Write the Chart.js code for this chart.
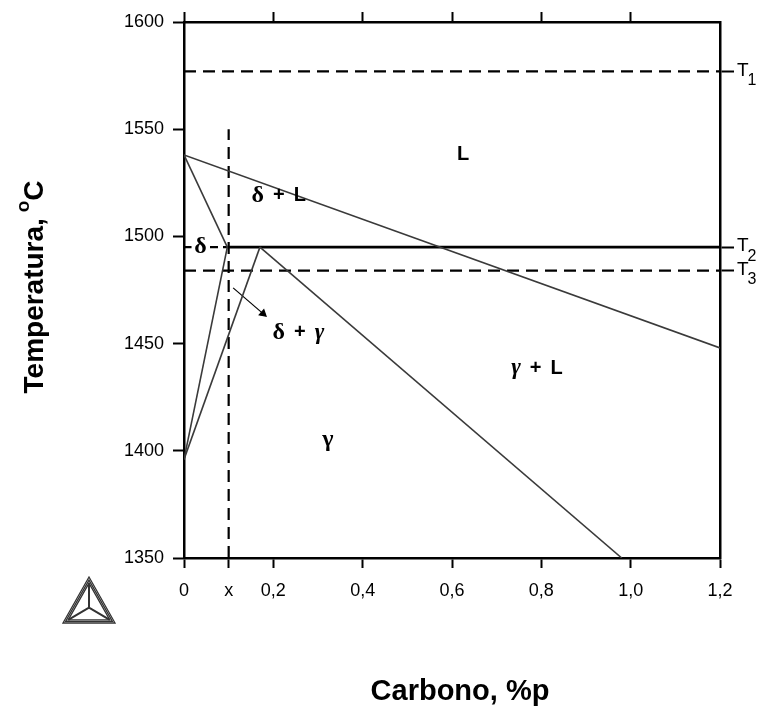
<!DOCTYPE html>
<html>
<head>
<meta charset="utf-8">
<script src="https://cdn.jsdelivr.net/npm/chart.js@4/dist/chart.umd.min.js"></script>
<style>
  html, body { margin: 0; padding: 0; background: #fff; }
  #wrap { width: 761px; height: 709px; }
</style>
</head>
<body>
<div id="wrap"><canvas id="chart" width="761" height="709"></canvas></div>
<script>
// axis ticks
const xTicks = [0, 0.1, 0.2, 0.4, 0.6, 0.8, 1.0, 1.2];
const xTopTicks = [0, 0.2, 0.4, 0.6, 0.8, 1.0];
const yTicks = [1350, 1400, 1450, 1500, 1550, 1600];

// phase boundaries (carbon %, temperature °C)
const liquidusC = [0, 1.2];
const liquidusT = [1538, 1448];
const deltaSolidusC = [0, 0.097];
const deltaSolidusT = [1538, 1495];
const deltaSolvusC = [0, 0.097];
const deltaSolvusT = [1396, 1495];
const gammaSolvusC = [0, 0.17];
const gammaSolvusT = [1396, 1495];
const gammaSolidusC = [0.17, 0.98];
const gammaSolidusT = [1495, 1350];
const peritecticC = [0.097, 1.2];
const peritecticT = [1495, 1495];

// reference temperatures and composition x
const tempNames = ['T1', 'T2', 'T3'];
const tempValues = [1577, 1495, 1484];
const xLineC = [0.1, 0.1];
const xLineT = [1350, 1550];
const arrowC = [0.11, 0.177];
const arrowT = [1476, 1464];

// region labels
const regionLabels = [
  { x: 0.625, y: 1538, runs: [['L', 'sans']] },
  { x: 0.212, y: 1519, runs: [['δ', 'serifB'], ['+', 'sans'], ['L', 'sans']] },
  { x: 0.256, y: 1455, runs: [['δ', 'serifB'], ['+', 'sans'], ['γ', 'serifI']] },
  { x: 0.79, y: 1438.5, runs: [['γ', 'serifI'], ['+', 'sans'], ['L', 'sans']] },
  { x: 0.322, y: 1405, runs: [['γ', 'serifB']] }
];

const pts = (xs, ys) => xs.map((x, i) => ({ x, y: ys[i] }));
const fmt = (v) => (v === 0.1 ? 'x' : v === 0 ? '0' : v.toFixed(1).replace('.', ','));

const thin = { borderColor: '#3a3a3a', borderWidth: 1.6 };
const dash = { borderColor: '#000', borderWidth: 2.2, borderDash: [12, 7] };

const datasets = [
  { data: pts(liquidusC, liquidusT), ...thin },
  { data: pts(deltaSolidusC, deltaSolidusT), ...thin },
  { data: pts(deltaSolvusC, deltaSolvusT), ...thin },
  { data: pts(gammaSolvusC, gammaSolvusT), ...thin },
  { data: pts(gammaSolidusC, gammaSolidusT), ...thin },
  { data: pts(peritecticC, peritecticT), borderColor: '#000', borderWidth: 2.6 },
  { data: pts([0, 1.2], [tempValues[0], tempValues[0]]), ...dash },
  { data: pts([0, 1.2], [tempValues[2], tempValues[2]]), ...dash },
  { data: pts([0, 0.097], [tempValues[1], tempValues[1]]), ...dash, borderDash: [8, 5] },
  { data: pts(xLineC, xLineT), ...dash },
  {
    data: pts(arrowC, arrowT), borderColor: '#000', borderWidth: 1.2,
    pointRadius: [0, 4], pointStyle: 'triangle', pointRotation: [0, 131],
    pointBackgroundColor: '#000', pointBorderColor: '#000'
  }
];

const SANS = "'Liberation Sans', Arial, sans-serif";
const fonts = {
  sans: 'bold 20px ' + SANS,
  serifB: "bold 24px 'Liberation Serif', 'Times New Roman', serif",
  serifI: "bold italic 23px 'Liberation Serif', 'Times New Roman', serif"
};

function drawRuns(ctx, runs, cx, cy, gap = 9) {
  let total = gap * (runs.length - 1);
  const widths = runs.map(([t, f]) => { ctx.font = fonts[f]; const w = ctx.measureText(t).width; total += w; return w; });
  let x = cx - total / 2;
  runs.forEach(([t, f], i) => { ctx.font = fonts[f]; ctx.fillText(t, x, cy); x += widths[i] + gap; });
}

const decorations = {
  id: 'decorations',
  afterDatasetsDraw(chart) {
    const { ctx, scales } = chart;
    const sx = scales.x, sy = scales.y;
    ctx.save();
    ctx.fillStyle = '#000';
    ctx.textBaseline = 'middle';
    ctx.textAlign = 'left';

    // delta label over the dashed line
    const dx = sx.getPixelForValue(0.037), dy = sy.getPixelForValue(1495);
    ctx.fillStyle = '#fff';
    ctx.fillRect(dx - 9, dy - 12, 18, 24);
    ctx.fillStyle = '#000';
    drawRuns(ctx, [['δ', 'serifB']], dx, dy);

    regionLabels.forEach((l) => drawRuns(ctx, l.runs, sx.getPixelForValue(l.x), sy.getPixelForValue(l.y)));

    // T labels with subscripts
    tempNames.forEach((name, i) => {
      const py = sy.getPixelForValue(tempValues[i]);
      const left = chart.chartArea.right + 17;
      ctx.font = '19px ' + SANS;
      ctx.fillText(name[0], left, py - 1);
      const w = ctx.measureText(name[0]).width;
      ctx.font = '16px ' + SANS;
      ctx.fillText(name.slice(1), left + w - 1, py + 9);
    });

    // axis titles
    ctx.font = 'bold 29px ' + SANS;
    ctx.textAlign = 'center';
    ctx.fillText('Carbono, %p', 460, 692);

    ctx.translate(35, 286);
    ctx.rotate(-Math.PI / 2);
    const main = 'Temperatura, ';
    ctx.font = 'bold 28px ' + SANS;
    const w1 = ctx.measureText(main).width;
    const w3 = ctx.measureText('C').width;
    ctx.font = 'bold 19px ' + SANS;
    const w2 = ctx.measureText('o').width;
    let x0 = -(w1 + w2 + w3) / 2;
    ctx.textAlign = 'left';
    ctx.font = 'bold 28px ' + SANS;
    ctx.fillText(main, x0, 0);
    ctx.font = 'bold 19px ' + SANS;
    ctx.fillText('o', x0 + w1 - 2, -11);
    ctx.font = 'bold 28px ' + SANS;
    ctx.fillText('C', x0 + w1 + w2 - 2, 0);
    ctx.restore();

    // logo triangle
    ctx.save();
    ctx.strokeStyle = '#333';
    ctx.lineWidth = 1.3;
    const base = [[89, 577], [63, 623], [115, 623]];
    const cx = 89, cy = (577 + 623 + 623) / 3;
    [1, 0.9, 0.8].forEach((s) => {
      ctx.beginPath();
      base.forEach(([px, py], i) => {
        const qx = cx + (px - cx) * s, qy = cy + (py - cy) * s;
        if (i === 0) ctx.moveTo(qx, qy); else ctx.lineTo(qx, qy);
      });
      ctx.closePath();
      ctx.stroke();
    });
    ctx.lineWidth = 2;
    ctx.beginPath();
    base.forEach(([px, py]) => { ctx.moveTo(cx, cy); ctx.lineTo(cx + (px - cx) * 0.8, cy + (py - cy) * 0.8); });
    ctx.stroke();
    ctx.restore();
  }
};

const tickFont = { family: SANS, size: 18 };

new Chart(document.getElementById('chart'), {
  type: 'scatter',
  data: { datasets: datasets.map((d) => ({ showLine: true, pointRadius: 0, fill: false, ...d })) },
  options: {
    responsive: false,
    animation: false,
    devicePixelRatio: 1,
    layout: { padding: 0 },
    plugins: { legend: { display: false }, tooltip: { enabled: false } },
    scales: {
      x: {
        type: 'linear', position: 'bottom', min: 0, max: 1.2,
        afterBuildTicks: (s) => { s.ticks = xTicks.map((v) => ({ value: v })); },
        afterFit: (s) => { s.height = 151; },
        ticks: { callback: fmt, color: '#000', font: tickFont, padding: 12, autoSkip: false, maxRotation: 0 },
        grid: { drawOnChartArea: false, tickLength: 10, tickColor: '#000', tickWidth: 2 },
        border: { color: '#000', width: 2.5 }
      },
      xTop: {
        type: 'linear', position: 'top', min: 0, max: 1.2,
        afterBuildTicks: (s) => { s.ticks = xTopTicks.map((v) => ({ value: v })); },
        afterFit: (s) => { s.height = 22; },
        ticks: { display: false },
        grid: { drawOnChartArea: false, tickLength: 10, tickColor: '#000', tickWidth: 2 },
        border: { color: '#000', width: 2.5 }
      },
      y: {
        type: 'linear', position: 'left', min: 1350, max: 1600,
        afterBuildTicks: (s) => { s.ticks = yTicks.map((v) => ({ value: v })); },
        afterFit: (s) => { s.width = 184; },
        ticks: { callback: (v) => String(v), color: '#000', font: tickFont, padding: 9 },
        grid: { drawOnChartArea: false, tickLength: 11, tickColor: '#000', tickWidth: 2 },
        border: { color: '#000', width: 2.5 }
      },
      yRight: {
        type: 'linear', position: 'right', min: 1350, max: 1600,
        afterBuildTicks: (s) => { s.ticks = tempValues.map((v) => ({ value: v })); },
        afterFit: (s) => { s.width = 41; },
        ticks: { display: false },
        grid: { drawOnChartArea: false, tickLength: 14, tickColor: '#000', tickWidth: 2 },
        border: { color: '#000', width: 2.5 }
      }
    }
  },
  plugins: [decorations]
});
</script>
</body>
</html>
